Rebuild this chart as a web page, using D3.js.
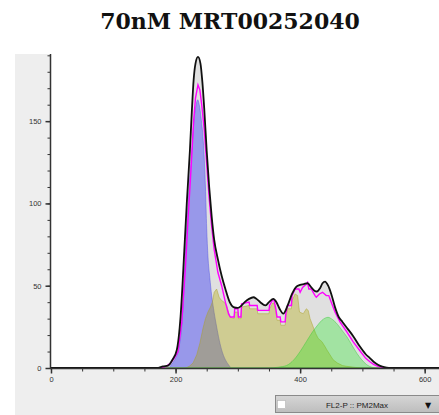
<!DOCTYPE html>
<html><head><meta charset="utf-8">
<script src="https://cdn.jsdelivr.net/npm/d3@7"></script>
<style>body{margin:0;background:#fff}svg{display:block}</style>
</head><body>
<svg id="c" width="439" height="415"></svg>
<script>
const title = "70nM MRT00252040";
const xTicks = [0, 200, 400, 600];
const yTicks = [0, 50, 100, 150];
const xMinor = d3.range(0, 624, 50);
const yMinor = d3.range(0, 191, 10);
const dropdownLabel = "FL2-P :: PM2Max";

// Total histogram (black line, light grey fill)
const totalX = [0,170,180,188,195,202,208,214,218,223,226,229,232,236,240,243,246,250,254,258,262,268,274,280,287,293,300,306,311,318,325,330,336,344,350,357,362,367,373,380,387,393,400,406,412,418,423,427,432,436,440,445,450,456,462,468,475,485,496,505,512,518,525,532,539,545,623];
const totalY = [0,0,1,1.5,5,11,31,71,100,132,155,175,185,189,185,174,158,132,110,92,78,66,56,48,40,37,36.5,38,40,42,43,42,40,38,40,42,40,36,33,38,45,49,50.5,51,51.5,49,47,46.5,48.5,51.5,52.5,50,45,37,31,28,24.5,19.5,13,8.5,6,3.8,2,0.8,0.2,0,0];

// Model sum (magenta line)
const modelX = [0,175,185,192,198,204,210,216,220,225,229,232,236,239,242,246,250,254,258,262,268,274,280,285,288,294,295,300,301,305,306,318,319,331,332,350,351,356,358,361,363,368,369,376,377,380,386,387,392,398,400,404,410,412,414,418,421,424,426,431,436,442,446,450,456,464,475,485,496,505,512,518,526,534,540,623];
const modelY = [0,0,1,3,6,10,28,62,90,122,150,164,172,169,160,145,124,103,86,72,58,50,40,33,31,31,36,36,31,31,39,40,38,38,35,35,38,41.5,41.5,36,31,31,28,28,33,38,38,44,48,48,46,49,51,52,48,48,46,44,43,45,46,44,44,40,34,28,22,16,10.5,6,3.8,2.2,0.8,0.2,0,0];

// G1 component (blue)
const g1X = [0,188,195,200,204.5,211,216,221,226,230,233,235.5,238,241,245,248,250,252,255,258,261,265,269,274,280,285,290,623];
const g1Y = [0,0,3,6,11,31,72,105,132,152,160,163,160,152,135,110,85,68,55,44,36,27,19,11,5,2,0,0];

// S component (olive)
const sX = [0,216,222,228,234,239,244,248,252,256,259,262,266,270,274,278,282,287,294,295,300,301,305,306,318,319,331,332,350,351,356,358,361,363,368,369,376,377,380,386,387,392,396,399,405,410,413,416,421,425,429,435,440,443,448,453,460,468,475,490,500,623];
const sY = [0,0,1,3,8,15,24,30,34,37,40,46,48,43,41,40,38,31,30,34,34,30,30,37,38,36,36,33,33,36,39.5,39.5,34,29,29,26,26,31,36,36,41,45,44,34,33,36,35,30,25,21,18,16,13,11,8,5,3,1.5,1,0.3,0,0];

// G2 component (green)
const g2X = [0,350,365,378,390,400,410,420,427,435,440,445,450,455,460,467,475,483,491,499,507,515,522,623];
const g2Y = [0,0,0.5,1.5,5,10,16,22,25.5,29,30.3,30.8,30,28.5,26.5,23,19,14,9,5,2,0.5,0,0];

const svg = d3.select("#c");
const x = d3.scaleLinear().domain([0, 623]).range([51, 439]);
const y = d3.scaleLinear().domain([0, 190.8]).range([368, 54]);

// panel background
svg.append("rect").attr("x", 15).attr("y", 54).attr("width", 424).attr("height", 361).attr("fill", "#eeeeee");
svg.append("rect").attr("x", 51).attr("y", 54).attr("width", 388).attr("height", 314).attr("fill", "#ffffff");

svg.append("text").attr("x", 230).attr("y", 29).attr("text-anchor", "middle")
  .attr("font-family", "'DejaVu Serif', serif").attr("font-weight", "bold").attr("font-size", 22)
  .attr("fill", "#111").text(title);

const zip = (xs, ys) => xs.map((v, i) => [v, ys[i]]);
const area = (curve) => d3.area().x(d => x(d[0])).y0(y(0)).y1(d => y(d[1])).curve(curve);
const line = (curve) => d3.line().x(d => x(d[0])).y(d => y(d[1])).curve(curve);

const plot = svg.append("g");
plot.append("path").attr("d", area(d3.curveMonotoneX)(zip(totalX, totalY))).attr("fill", "#e0e0e0");
plot.append("path").attr("d", area(d3.curveMonotoneX)(zip(g1X, g1Y)))
  .attr("fill", "rgba(0,0,255,0.32)").attr("stroke", "rgba(80,80,230,0.6)").attr("stroke-width", 0.8);
plot.append("path").attr("d", area(d3.curveLinear)(zip(sX, sY)))
  .attr("fill", "rgba(175,165,0,0.35)").attr("stroke", "rgba(170,160,40,0.6)").attr("stroke-width", 0.8);
plot.append("path").attr("d", area(d3.curveMonotoneX)(zip(g2X, g2Y)))
  .attr("fill", "rgba(20,235,20,0.3)").attr("stroke", "rgba(60,200,60,0.6)").attr("stroke-width", 0.8);
plot.append("path").attr("d", line(d3.curveLinear)(zip(modelX, modelY)))
  .attr("fill", "none").attr("stroke", "#ff00ff").attr("stroke-width", 1.4);
plot.append("path").attr("d", line(d3.curveMonotoneX)(zip(totalX, totalY)))
  .attr("fill", "none").attr("stroke", "#111").attr("stroke-width", 1.8);

// axes
const styleAxis = g => {
  g.select(".domain").remove();
  g.selectAll(".tick line").attr("stroke", "#333");
  g.selectAll(".tick text").attr("fill", "#333").attr("font-family", "'Liberation Sans', Arial, sans-serif").attr("font-size", 7.5);
};
svg.append("g").attr("transform", "translate(50.5,0)")
  .call(d3.axisLeft(y).tickValues(yMinor).tickSize(3).tickFormat("")).call(styleAxis);
svg.append("g").attr("transform", "translate(50.5,0)")
  .call(d3.axisLeft(y).tickValues(yTicks).tickSize(5).tickPadding(4)).call(styleAxis)
  .selectAll(".tick line").attr("stroke-width", 1.5);
svg.append("g").attr("transform", "translate(0,368.5)")
  .call(d3.axisBottom(x).tickValues(xMinor).tickSize(3).tickFormat("")).call(styleAxis);
svg.append("g").attr("transform", "translate(0,368.5)")
  .call(d3.axisBottom(x).tickValues(xTicks).tickSize(5).tickPadding(3)).call(styleAxis)
  .selectAll(".tick line").attr("stroke-width", 1.5);
svg.append("line").attr("x1", 50.5).attr("x2", 50.5).attr("y1", 54).attr("y2", 369).attr("stroke", "#333").attr("stroke-width", 1.5);
svg.append("line").attr("x1", 50).attr("x2", 439).attr("y1", 368.5).attr("y2", 368.5).attr("stroke", "#333").attr("stroke-width", 1.5);

// dropdown
const dd = svg.append("g");
const grad = svg.append("defs").append("linearGradient").attr("id", "gr").attr("x1", 0).attr("x2", 0).attr("y1", 0).attr("y2", 1);
grad.append("stop").attr("offset", "0%").attr("stop-color", "#d6d6d6");
grad.append("stop").attr("offset", "100%").attr("stop-color", "#bdbdbd");
dd.append("rect").attr("x", 275.5).attr("y", 395.5).attr("width", 166).attr("height", 17).attr("fill", "url(#gr)").attr("stroke", "#8a8a8a");
dd.append("rect").attr("x", 277.5).attr("y", 400.5).attr("width", 8).attr("height", 8).attr("fill", "#fff").attr("stroke", "#aaa").attr("stroke-width", 0.5);
dd.append("text").attr("x", 357).attr("y", 407.5).attr("text-anchor", "middle").attr("font-family", "'Liberation Sans', Arial, sans-serif")
  .attr("font-size", 8).attr("fill", "#222").text(dropdownLabel);
dd.append("text").attr("x", 428).attr("y", 408).attr("text-anchor", "middle").attr("font-family", "'DejaVu Sans', sans-serif")
  .attr("font-size", 8).attr("fill", "#111").text("▼");
</script>
</body></html>
